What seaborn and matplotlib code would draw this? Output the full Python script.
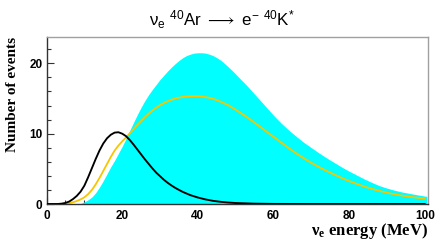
import numpy as np
import pandas as pd
import matplotlib
matplotlib.use("Agg")
import matplotlib.pyplot as plt
from matplotlib.ticker import MultipleLocator
import seaborn as sns

# ---- data ----
cyan_e = [0, 8, 9, 10, 11, 12, 13, 14, 15, 16, 17, 18, 19, 20, 21, 22, 23, 24, 25, 26, 27, 28,
          29, 30, 31, 32, 33, 34, 35, 36, 37, 38, 39, 40, 41, 42, 43, 44, 45, 46, 47, 48, 49,
          50, 51, 52, 53, 54, 55, 56, 57, 58, 59, 60, 62, 64, 66, 68, 70, 72, 74, 76, 78, 80,
          82, 84, 86, 88, 90, 92, 94, 96, 98, 100, 100.5]
cyan_n = [0, 0, 0.05, 0.3, 0.6, 1.0, 1.6, 2.4, 3.3, 4.3, 5.3, 6.2, 7.2, 8.2, 9.3, 10.45, 11.6,
          12.7, 13.75, 14.7, 15.55, 16.3, 17.0, 17.7, 18.3, 18.9, 19.45, 19.95, 20.4, 20.8,
          21.1, 21.3, 21.45, 21.5, 21.5, 21.45, 21.3, 21.1, 20.8, 20.45, 20.0, 19.5, 19.0,
          18.45, 17.9, 17.35, 16.8, 16.2, 15.6, 15.0, 14.4, 13.8, 13.2, 12.6, 11.5, 10.5, 9.6,
          8.75, 8.0, 7.25, 6.55, 5.9, 5.25, 4.65, 4.1, 3.55, 3.05, 2.6, 2.25, 1.95, 1.7, 1.5,
          1.3, 1.12, 1.1]

orange_e = [0, 4, 5, 6, 7, 8, 9, 10, 11, 12, 13, 14, 15, 16, 17, 18, 19, 20, 21, 22, 23, 24, 25,
            26, 27, 28, 29, 30, 31, 32, 33, 34, 35, 36, 37, 38, 39, 40, 41, 42, 43, 44, 46, 48,
            50, 52, 54, 56, 58, 60, 62, 64, 66, 68, 70, 72, 74, 76, 78, 80, 82, 84, 86, 88, 90,
            92, 94, 96, 98, 100]
orange_n = [0, 0.02, 0.05, 0.12, 0.25, 0.42, 0.65, 0.95, 1.4, 2.0, 2.8, 3.7, 4.7, 5.7, 6.7, 7.6,
            8.3, 8.9, 9.45, 10.05, 10.65, 11.25, 11.8, 12.35, 12.85, 13.3, 13.7, 14.05, 14.35,
            14.6, 14.82, 15.0, 15.12, 15.22, 15.28, 15.32, 15.33, 15.32, 15.28, 15.2, 15.1,
            14.97, 14.55, 14.05, 13.4, 12.7, 11.95, 11.15, 10.35, 9.55, 8.75, 7.95, 7.2, 6.5,
            5.85, 5.25, 4.7, 4.2, 3.7, 3.25, 2.85, 2.48, 2.15, 1.86, 1.6, 1.38, 1.19, 1.03,
            0.89, 0.77]

black_e = [0, 3, 4, 5, 6, 7, 8, 9, 10, 11, 12, 13, 14, 15, 16, 17, 18, 19, 20, 21, 22, 23, 24,
           25, 26, 27, 28, 29, 30, 31, 32, 33, 34, 35, 36, 38, 40, 42, 44, 46, 48, 50, 55, 60,
           70, 100]
black_n = [0, 0, 0.05, 0.15, 0.35, 0.7, 1.15, 1.75, 2.6, 3.8, 5.1, 6.4, 7.6, 8.6, 9.35, 9.85,
           10.15, 10.2, 10.0, 9.65, 9.1, 8.45, 7.75, 7.05, 6.35, 5.7, 5.05, 4.45, 3.95, 3.45,
           3.02, 2.64, 2.3, 2.0, 1.72, 1.26, 0.92, 0.65, 0.45, 0.31, 0.21, 0.14, 0.05, 0.015,
           0, 0]

x_ticks = [0, 20, 40, 60, 80, 100]
y_ticks = [0, 10, 20]

sns.set_style("ticks")
plt.rcParams['font.family'] = ['Liberation Sans', 'DejaVu Sans']
plt.rcParams['text.color'] = 'black'
plt.rcParams['xtick.labelcolor'] = 'black'
plt.rcParams['ytick.labelcolor'] = 'black'
plt.rcParams['mathtext.fontset'] = 'custom'
plt.rcParams['mathtext.rm'] = 'Liberation Sans'
plt.rcParams['mathtext.it'] = 'Liberation Sans'
plt.rcParams['mathtext.bf'] = 'Liberation Serif:bold'
plt.rcParams['mathtext.fallback'] = 'stixsans'

fig = plt.figure(figsize=(4.36, 2.47), dpi=100)
ax = fig.add_axes([46.5 / 436, 1 - 204 / 247, (428 - 46.5) / 436, (204 - 37.3) / 247])

ax.fill_between(cyan_e, cyan_n, 0, color="#00ffff", linewidth=0, zorder=1)
df_o = pd.DataFrame({"E": orange_e, "N": orange_n})
df_b = pd.DataFrame({"E": black_e, "N": black_n})
sns.lineplot(data=df_o, x="E", y="N", color="#f7c600", linewidth=1.3, ax=ax, zorder=2)
sns.lineplot(data=df_b, x="E", y="N", color="black", linewidth=1.35, ax=ax, zorder=3)

ax.set_xlim(0, 100.8)
ax.set_ylim(0, 23.7)
ax.set_xticks(x_ticks)
ax.set_yticks(y_ticks)
ax.xaxis.set_minor_locator(MultipleLocator(5))
ax.yaxis.set_minor_locator(MultipleLocator(2))
ax.tick_params(axis='both', which='major', direction='in', length=5, width=0.8,
               color='#333333', labelsize=8.5, pad=3, labelcolor='black')
ax.tick_params(axis='both', which='minor', direction='in', length=2.7, width=0.8,
               color='#333333')
ax.tick_params(axis='x', which='major', pad=4)
for lab in ax.get_xticklabels() + ax.get_yticklabels():
    lab.set_fontweight('bold')
    lab.set_fontfamily(['Liberation Sans', 'DejaVu Sans'])

for s in ['left', 'bottom']:
    ax.spines[s].set_color('#333333')
    ax.spines[s].set_linewidth(1.0)
for s in ['top', 'right']:
    ax.spines[s].set_visible(True)
    ax.spines[s].set_color('#a0a0a0')
    ax.spines[s].set_linewidth(1.0)

ax.set_xlabel("")
ax.set_ylabel("")
fig.text(428 / 436, 1 - 231 / 247, r"ν$_\mathbf{e}$ energy (MeV)", ha='right', va='center',
         fontsize=12, fontweight='bold', color='black',
         family=['Liberation Serif', 'DejaVu Serif'])
fig.text(13 / 436, 1 - 37 / 247, "Number of events", ha='center', va='top', rotation=90,
         fontsize=11, fontweight='bold', color='black',
         family=['Liberation Serif', 'DejaVu Serif'])
fig.text(222 / 436, 1 - 20 / 247,
         r"ν$_\mathrm{e}$ $^{40}$Ar $\longrightarrow$ e$^{-}$ $^{40}$K$^{*}$",
         ha='center', va='center', fontsize=12.2, color='black',
         family=['Liberation Sans', 'DejaVu Sans'])

fig.savefig("out.png", dpi=100)
